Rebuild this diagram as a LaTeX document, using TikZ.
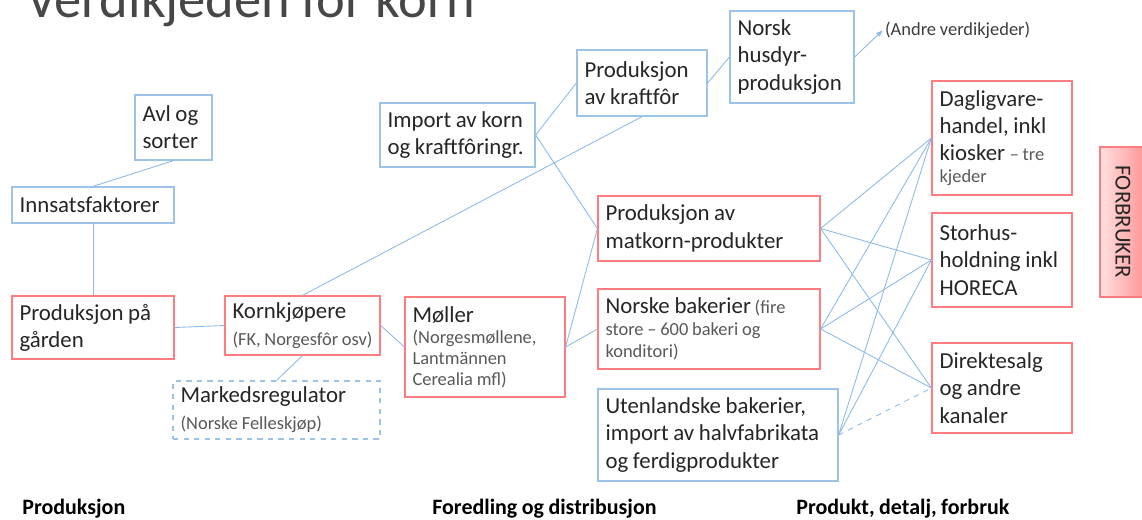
\documentclass[tikz,border=0pt]{standalone}
\usepackage{fontspec}
\setmainfont{Carlito}[WordSpace=0.9]
\usetikzlibrary{arrows.meta}

\definecolor{boxblue}{HTML}{9DC3E6}
\definecolor{boxred}{HTML}{FF7C80}
\definecolor{lineblue}{HTML}{8DBAE6}
\definecolor{textdark}{HTML}{262626}
\definecolor{textgray}{HTML}{595959}

\newcommand{\stor}{\fontsize{13}{15.5}\selectfont}
\newcommand{\klein}[1]{{\fontsize{10.5}{12}\selectfont\color{textgray}#1}}

\tikzset{
  boks/.style={draw=boxblue, line width=0.7pt, fill=white, align=flush left,
    inner xsep=4pt, text=textdark, font=\stor},
  rodboks/.style={boks, draw=boxred},
  strek/.style={lineblue, line width=0.5pt},
  fase/.style={anchor=base west, inner sep=0pt, font=\fontsize{12.5}{14}\selectfont\bfseries, text=black},
}

\begin{document}
\begin{tikzpicture}[x=0.02cm, y=-0.02cm]
  \useasboundingbox (0,0) rectangle (1142,520);

  % Tittel
  \node[anchor=base west, font=\fontsize{31}{32}\selectfont, text=textdark!85, inner sep=0pt]
    (tittel) at (26,18) {Verdikjeden for korn};

  % Produksjon
  \node[boks, minimum width=1.54cm, minimum height=1.3cm, text width=1.24cm] (avl) at (173.5,127.5) {Avl og\\sorter};
  \node[boks, minimum width=3.24cm, minimum height=0.72cm, text width=2.94cm] (innsats) at (93,205) {Innsatsfaktorer};
  \node[rodboks, minimum width=3.24cm, minimum height=1.26cm, text width=2.94cm] (gaarden) at (93,327.5) {Produksjon på\\gården};
  \node[rodboks, minimum width=3.1cm, minimum height=1.18cm, text width=2.8cm] (korn) at (302.5,325.5) {Kornkjøpere\\\klein{(FK, Norgesfôr osv)}};
  \node[boks, dashed, minimum width=4.14cm, minimum height=1.12cm, text width=3.84cm] (marked) at (276.5,410) {Markedsregulator\\\klein{(Norske Felleskjøp)}};

  % Foredling og distribusjon
  \node[rodboks, minimum width=3.2cm, minimum height=2cm, text width=2.9cm,
    font=\fontsize{10.5}{12}\selectfont] (moller) at (485,347)
    {{\stor Møller}\\{\color{textgray}(Norgesmøllene,\\Lantmännen\\Cerealia mfl)}};
  \node[boks, minimum width=3.1cm, minimum height=1.28cm, text width=2.8cm] (import) at (457.5,135) {Import av korn\\og kraftfôringr.};
  \node[boks, minimum width=2.6cm, minimum height=1.32cm, text width=2.3cm] (kraftfor) at (642,83) {Produksjon\\av kraftfôr};
  \node[boks, minimum width=2.48cm, minimum height=1.84cm, text width=2.18cm] (husdyr) at (792,57) {Norsk\\husdyr-\\produksjon};
  \node[anchor=west, inner sep=1pt, font=\fontsize{10.5}{12}\selectfont, text=textdark!90] (andre) at (883,30) {(Andre verdikjeder)};
  \node[rodboks, minimum width=4.44cm, minimum height=1.3cm, text width=4.14cm] (matkorn) at (709,228.5) {Produksjon av\\matkorn-produkter};
  \node[rodboks, minimum width=4.44cm, minimum height=1.6cm, text width=4.14cm,
    font=\fontsize{10.5}{12.5}\selectfont] (bakerier) at (709,329)
    {{\stor Norske bakerier} {\color{textgray}(fire\\store -- 600 bakeri og\\konditori)}};
  \node[boks, minimum width=4.8cm, minimum height=1.84cm, text width=4.5cm] (utenl) at (718,435) {Utenlandske bakerier,\\import av halvfabrikata\\og ferdigprodukter};

  % Produkt, detalj, forbruk
  \node[rodboks, minimum width=2.8cm, minimum height=2.28cm, text width=2.5cm] (daglig) at (1002,138) {Dagligvare-\\handel, inkl\\kiosker \klein{-- tre}\\[-3pt]\klein{kjeder}};
  \node[rodboks, minimum width=2.8cm, minimum height=1.88cm, text width=2.5cm] (storhus) at (1002,260) {Storhus-\\holdning inkl\\HORECA};
  \node[rodboks, minimum width=2.8cm, minimum height=1.8cm, text width=2.5cm] (direkte) at (1002,388) {Direktesalg\\og andre\\kanaler};
  \node[draw=boxred, line width=0.7pt, rotate=-90, left color=red!12, right color=red!42,
    minimum width=3cm, minimum height=0.92cm, font=\stor, text=textdark] (forbruker) at (1123,222) {FORBRUKER};

  % Linjer
  \draw[strek] (avl.south) -- (innsats.north);
  \draw[strek] (innsats.south) -- (gaarden.north);
  \draw[strek] (gaarden.east) -- (korn.west);
  \draw[strek] (korn.north) -- (kraftfor.south);
  \draw[strek] (korn.south) -- (marked.north);
  \draw[strek] (korn.east) -- (moller.west);
  \draw[strek] (moller.east) -- (matkorn.west);
  \draw[strek] (moller.east) -- (bakerier.west);
  \draw[strek] (import.east) -- (kraftfor.west);
  \draw[strek] (import.east) -- (matkorn.west);
  \draw[strek] (kraftfor.east) -- (husdyr.west);
  \draw[strek, -{Latex[length=4pt,width=3pt]}] (husdyr.east) -- (andre.west);
  \foreach \fra in {matkorn,bakerier}
    \foreach \til in {daglig,storhus,direkte}
      \draw[strek] (\fra.east) -- (\til.west);
  \draw[strek] (utenl.east) -- (daglig.west);
  \draw[strek] (utenl.east) -- (storhus.west);
  \draw[strek, dashed] (utenl.east) -- (direkte.west);

  % Faser
  \node[fase] (prod) at (22,514) {Produksjon};
  \node[fase] (fored) at (432,514) {Foredling og distribusjon};
  \node[fase] (detalj) at (796,514) {Produkt, detalj, forbruk};
\end{tikzpicture}
\end{document}
